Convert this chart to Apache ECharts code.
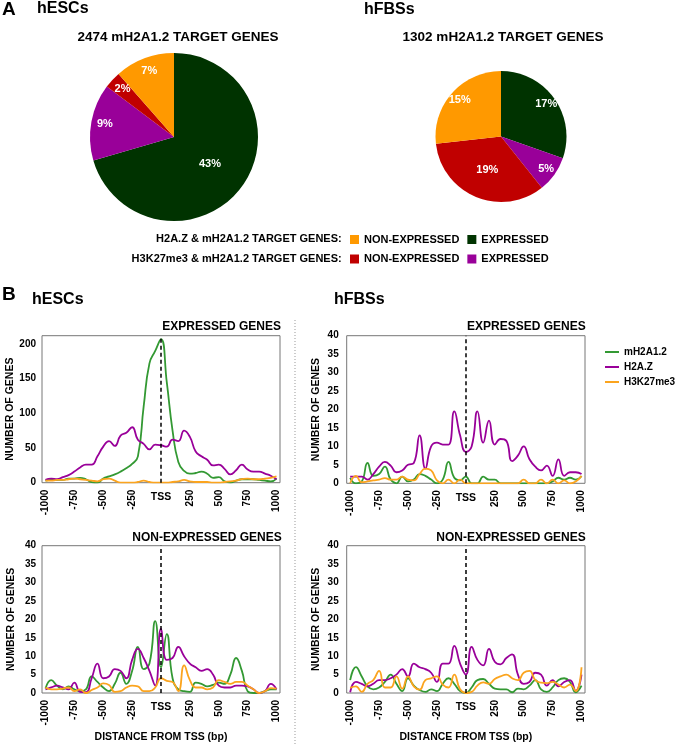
<!DOCTYPE html>
<html><head><meta charset="utf-8">
<script src="https://cdn.jsdelivr.net/npm/echarts@6/dist/echarts.min.js"></script>
<style>html,body{margin:0;padding:0;background:#fff}#c{width:680px;height:744px}</style>
</head><body><div id="c"></div>
<script>
// ---- DATA ----
const positions = [-1000,-950,-900,-850,-800,-750,-700,-650,-600,-550,-500,-450,-400,-350,-300,-250,-200,-150,-100,-50,0,
  50,100,150,200,250,300,350,400,450,500,550,600,650,700,750,800,850,900,950,1000];
const xTickValues = [-1000,-750,-500,-250,250,500,750,1000];
const tssTick = [0];
const yTicksEscExp = [0,50,100,150,200];
const yTicks40 = [0,5,10,15,20,25,30,35,40];
const seriesNames = ['mH2A1.2','H2A.Z','H3K27me3'];

// hESCs, expressed genes
const escExpMH2A = [3,4,4,4,6,6,7,5,1,0,6,9,12,16,21,27,38,110,172,190,207,145,75,30,17,13,14,16,13,7,8,2,0,3,5,5,5,4,3,2,6];
const escExpH2AZ = [4,6,5,8,11,16,22,26,26,38,52,60,53,68,72,80,62,56,48,55,54,52,62,60,75,66,45,38,33,25,26,20,12,18,26,19,16,16,13,10,5];
const escExpK27  = [3,3,4,4,5,6,5,4,3,2,5,6,3,0,0,0,1,3,1,0,0,0,1,2,4,2,1,1,1,0,0,1,2,3,5,6,5,5,6,7,9];
// hFBSs, expressed genes
const fbsExpMH2A = [1.5,0,0.5,5.5,2,2.5,4.5,1,0,1.8,0.5,1,2.5,2,1,0,1,5.8,1.5,0.8,1.8,0,0,1.8,1,1,0,0,0,0,0,0,0,0,0,0.5,1.5,1,1.5,1,2];
const fbsExpH2AZ = [1.8,1.8,1.8,1.0,2.5,4.5,5.8,4.8,3.0,3.5,5,5.5,13,4,10,11,10.5,10.5,19.5,13,8.5,10,19.5,11,17,10.5,12,11.5,6,7.5,10,6.5,4.5,3.5,4.8,2,6.5,2,3,3,2.5];
const fbsExpK27  = [0,2,0.3,0.5,0.8,1,1.4,1,1,1.8,1,0.8,2.5,4,3.5,0.8,0,1,0,1,0,0,0,0,0,0,0,0,0,0,1,0,0,1,0,1,0,0.8,0,0.5,2];
// hESCs, non-expressed genes
const escNeMH2A = [1.2,3.5,2,1,1.8,1,0.5,1,4.5,3,1.5,0.5,2.5,5.5,2.5,6,12.5,6.5,8,19.5,7,16,4,1,0.5,0.3,2.8,2.5,1.8,2.2,2.8,2.5,5,9.5,6,0.5,0,0,0.5,1,1];
const escNeH2AZ = [1,1.5,2,1.5,1,2.8,0.3,0.2,4,8,4,4.5,6.5,6,4,9,12,9.5,6,2,17.5,9,9.5,12.5,10,8,7,6,6.5,5,2,1.5,1.5,2,2,1.8,1,0,0.5,2.5,1];
const escNeK27  = [1.5,1,1,1.2,1.5,0.5,1,0,0.8,1.5,2.6,2.2,0.3,0.5,1.5,2,1.8,0.5,0.5,1.5,4,3.3,3,0.5,7.5,3.5,1.5,1.5,1,1.5,3.5,3,2.5,3,3,2,1,0,0.5,1.3,1.2];
// hFBSs, non-expressed genes
const fbsNeMH2A = [3.5,7,4.5,1.8,1,1.5,3,5,2.5,0.5,4,2,0.8,0.3,1,0.5,2.5,4,2.5,0.5,0,1.5,3.5,3.8,2.5,1.2,1,1,0.2,1.2,1,2,3.5,1,0.3,1.5,3.5,4,3,0.2,2];
const fbsNeH2AZ = [0.2,3,2.5,1.8,2.5,3.5,3.5,4,5,6.5,4.5,8,7,6.5,5.5,3,8,8,12.8,8,5,12.5,9,7.5,12,8.5,7.8,9.5,10.5,5,2.5,3,5.5,5,2,3.5,1.8,3,3.5,0.6,5];
const fbsNeK27  = [1.4,1.8,0.3,2.5,3.5,6,1.5,1.5,4.5,1.2,4.5,1.8,0.9,3.5,4,4.5,2.3,1.5,5,1,0,0.3,2,2.9,2.5,3.8,4.5,5,4,3.5,5.5,6,3.5,2.8,2.7,3,2.3,1.5,2.3,0.5,7];

// Pies (clockwise from 12 o'clock)
const pieNames = ['H2A.Z expressed','H3K27me3 expressed','H3K27me3 non-expressed','H2A.Z non-expressed'];
const escPie = [43,9,2,7];
const fbsPie = [17,5,19,15];

// ---- STYLE ----
const FF = '"Liberation Sans", Arial, Helvetica, sans-serif';
const lineColors = ['#339933','#990099','#fba41e'];
const pieColors = ['#003300','#990099','#c00000','#ff9900'];

const panels = [
  {grid:{left:42, top:335.7, width:238, height:147}, max:212, ticks:yTicksEscExp, data:[escExpMH2A,escExpH2AZ,escExpK27], lm:6, bottom:false},
  {grid:{left:346.7, top:335.7, width:238.3, height:147.6}, max:40, ticks:yTicks40, data:[fbsExpMH2A,fbsExpH2AZ,fbsExpK27], lm:8, bottom:false},
  {grid:{left:42, top:545.7, width:238, height:147.6}, max:40, ticks:yTicks40, data:[escNeMH2A,escNeH2AZ,escNeK27], lm:6, bottom:true},
  {grid:{left:346.7, top:545.7, width:238.3, height:147.6}, max:40, ticks:yTicks40, data:[fbsNeMH2A,fbsNeH2AZ,fbsNeK27], lm:8, bottom:true}
];

const bold = (fs, extra) => Object.assign({fontFamily:FF, fontWeight:'bold', fontSize:fs, color:'#000'}, extra||{});

const grid = [], xAxis = [], yAxis = [], series = [];
panels.forEach((p, i) => {
  grid.push(Object.assign({show:true, borderColor:'#777', borderWidth:1, backgroundColor:'transparent'}, p.grid));
  xAxis.push({
    gridIndex:i, type:'value', min:-1030, max:1030, position:'bottom',
    axisLine:{show:false}, axisTick:{show:false}, splitLine:{show:false},
    axisLabel:Object.assign(bold(10), {customValues:xTickValues, rotate:90, margin:7, formatter:v=>String(v)}),
    name: p.bottom ? 'DISTANCE FROM TSS (bp)' : '', nameLocation:'middle', nameGap:39,
    nameTextStyle: bold(10.5)
  });
  xAxis.push({
    gridIndex:i, type:'value', min:-1030, max:1030, position:'bottom',
    axisLine:{show:false}, axisTick:{show:false}, splitLine:{show:false},
    axisLabel:Object.assign(bold(10.5), {customValues:tssTick, margin:9, formatter:()=> 'TSS'})
  });
  yAxis.push({
    gridIndex:i, type:'value', min:0, max:p.max,
    axisLine:{show:false}, axisTick:{show:false}, splitLine:{show:false},
    axisLabel:Object.assign(bold(10), {customValues:p.ticks, margin:p.lm}),
    name:'NUMBER OF GENES', nameLocation:'middle', nameGap:25, nameRotate:90,
    nameTextStyle: bold(10.5)
  });
  p.data.forEach((vals, k) => {
    const s = {
      type:'line', name:seriesNames[k], xAxisIndex:2*i, yAxisIndex:i,
      data: positions.map((x, j) => [x, vals[j]]),
      smooth:0.5, symbol:'none', showSymbol:false,
      lineStyle:{width:1.8, color:lineColors[k]}, itemStyle:{color:lineColors[k]},
      silent:true, z:3+k
    };
    if (k === 0) {
      s.markLine = {silent:true, symbol:'none', label:{show:false},
        lineStyle:{color:'#000', type:[4,3], width:1.5}, data:[{xAxis:0}], z:10};
    }
    series.push(s);
  });
});

function pieSeries(center, r, vals, mainLabelIdx) {
  const labelBase = Object.assign(bold(11), {color:'#fff', position:'inside', formatter:'{c}%'});
  return [
    {type:'pie', center, radius:r, startAngle:90, silent:true, avoidLabelOverlap:false,
     labelLine:{show:false}, label:labelBase, itemStyle:{borderWidth:0},
     data: pieNames.map((n,k)=>({name:n, value:vals[k], itemStyle:{color:pieColors[k]}, label:{show:k===mainLabelIdx}}))},
    {type:'pie', center, radius:r*1.6, startAngle:90, silent:true, avoidLabelOverlap:false,
     labelLine:{show:false}, label:labelBase, itemStyle:{color:'rgba(0,0,0,0)', borderWidth:0},
     data: pieNames.map((n,k)=>({name:n, value:vals[k], label:{show:k!==mainLabelIdx}}))}
  ];
}
series.push(...pieSeries([174,137], 84, escPie, 0));
series.push(...pieSeries([501,136.5], 65.5, fbsPie, 2));

const T = (text, pos, fs, lh) => Object.assign({text, padding:0, textStyle:bold(fs, {lineHeight:lh})}, pos);
const title = [
  T('A', {left:2, top:0}, 19, 20),
  T('hESCs', {left:37, top:0}, 16, 18),
  T('hFBSs', {left:364, top:1}, 16, 18),
  T('2474 mH2A1.2 TARGET GENES', {left:178, top:29, textAlign:'center'}, 13.5, 16),
  T('1302 mH2A1.2 TARGET GENES', {left:503, top:29, textAlign:'center'}, 13.5, 16),
  T('H2A.Z & mH2A1.2 TARGET GENES:', {right:338.3, top:232.3}, 11, 14),
  T('H3K27me3 & mH2A1.2 TARGET GENES:', {right:338.3, top:252}, 11, 14),
  T('B', {left:2, top:285}, 19, 20),
  T('hESCs', {left:32, top:291}, 16, 18),
  T('hFBSs', {left:334, top:291}, 16, 18),
  T('EXPRESSED GENES', {right:399, top:319.7}, 12, 14),
  T('EXPRESSED GENES', {right:94.3, top:319.7}, 12, 14),
  T('NON-EXPRESSED GENES', {right:398.3, top:530.7}, 12, 14),
  T('NON-EXPRESSED GENES', {right:94.3, top:530.7}, 12, 14)
];

const pieFmt = n => n.indexOf('non') >= 0 ? 'NON-EXPRESSED' : 'EXPRESSED';
const legend = [
  {data:seriesNames, orient:'vertical', left:605, top:346, icon:'rect', itemWidth:14, itemHeight:2, itemGap:3,
   selectedMode:false, padding:0, textStyle:bold(10,{lineHeight:12})},
  {data:[pieNames[3], pieNames[0]], orient:'horizontal', left:350, top:233.5, icon:'rect', itemWidth:9, itemHeight:9, itemGap:8,
   selectedMode:false, padding:0, formatter:pieFmt, textStyle:bold(11,{lineHeight:12})},
  {data:[pieNames[2], pieNames[1]], orient:'horizontal', left:350, top:253, icon:'rect', itemWidth:9, itemHeight:9, itemGap:8,
   selectedMode:false, padding:0, formatter:pieFmt, textStyle:bold(11,{lineHeight:12})}
];

const chart = echarts.init(document.getElementById('c'), null, {renderer:'canvas'});
chart.setOption({
  backgroundColor:'#fff', animation:false, textStyle:{fontFamily:FF},
  title, legend, grid, xAxis, yAxis, series,
  graphic:[{type:'line', shape:{x1:295, y1:320, x2:295, y2:744}, style:{stroke:'#999', lineWidth:1, lineDash:[1,2]}, silent:true}]
});
</script></body></html>
